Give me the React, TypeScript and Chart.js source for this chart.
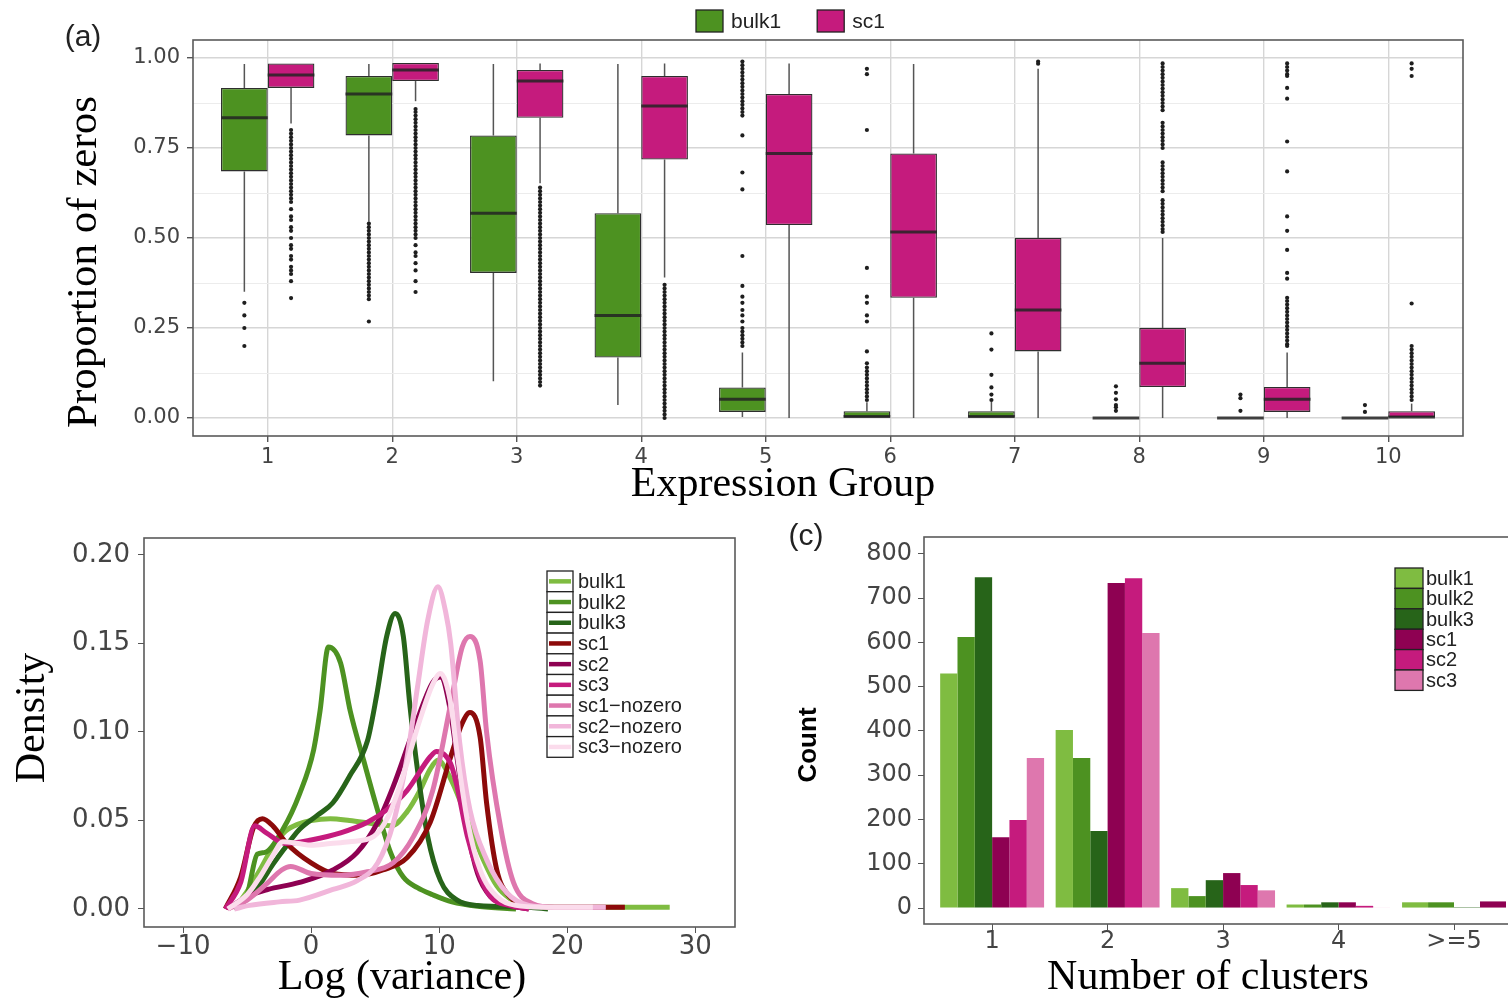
import React, { useEffect, useRef } from 'react';
import { Chart, registerables } from 'chart.js';

Chart.register(...registerables);
Chart.defaults.font.family = "'DejaVu Sans', 'Liberation Sans', sans-serif";

// ---------------- Panel (a): proportion of zeros by expression group ----------------
const exprGroups = ['1', '2', '3', '4', '5', '6', '7', '8', '9', '10'];

const bulk1Low = [0.351, 0.545, 0.102, 0.036, 0.003, 0, 0, 0, 0, 0];
const bulk1Q1 = [0.685, 0.785, 0.403, 0.168, 0.017, 0, 0, 0, 0, 0];
const bulk1Median = [0.834, 0.9, 0.569, 0.285, 0.052, 0.004, 0.004, 0, 0, 0];
const bulk1Q3 = [0.917, 0.95, 0.785, 0.569, 0.085, 0.019, 0.019, 0, 0, 0];
const bulk1High = [0.983, 0.983, 0.983, 0.983, 0.182, 0.044, 0.045, 0, 0, 0];

const sc1Low = [0.818, 0.88, 0.652, 0.39, 0, 0, 0, 0, 0, 0];
const sc1Q1 = [0.917, 0.936, 0.834, 0.718, 0.536, 0.334, 0.185, 0.086, 0.017, 0];
const sc1Median = [0.953, 0.967, 0.936, 0.867, 0.735, 0.517, 0.3, 0.152, 0.052, 0.003];
const sc1Q3 = [0.985, 0.986, 0.967, 0.95, 0.9, 0.735, 0.5, 0.25, 0.086, 0.019];
const sc1High = [0.985, 0.986, 0.985, 0.985, 0.985, 0.983, 0.97, 0.5, 0.182, 0.04];

const bulk1Outliers: number[][] = [
  [0.32, 0.285, 0.25, 0.2],
  [0.54, 0.53, 0.52, 0.51, 0.5, 0.49, 0.48, 0.47, 0.46, 0.45, 0.44, 0.43, 0.42, 0.41, 0.4, 0.39, 0.38, 0.37, 0.36, 0.35, 0.34, 0.33, 0.268],
  [],
  [],
  [0.99, 0.98, 0.97, 0.96, 0.95, 0.94, 0.93, 0.92, 0.91, 0.9, 0.89, 0.88, 0.87, 0.86, 0.85, 0.84, 0.785, 0.682, 0.635, 0.45, 0.367, 0.337, 0.32, 0.3, 0.285, 0.268, 0.25, 0.24, 0.23, 0.22, 0.21, 0.2],
  [0.97, 0.955, 0.8, 0.417, 0.337, 0.32, 0.285, 0.268, 0.185, 0.152, 0.14, 0.13, 0.12, 0.11, 0.1, 0.09, 0.08, 0.07, 0.06, 0.05],
  [0.235, 0.19, 0.12, 0.085, 0.065, 0.05],
  [0.088, 0.07, 0.052, 0.036, 0.03, 0.02],
  [0.065, 0.055, 0.02],
  [0.036, 0.017],
];

const sc1Outliers: number[][] = [
  [0.8, 0.79, 0.78, 0.77, 0.76, 0.75, 0.74, 0.73, 0.72, 0.71, 0.7, 0.69, 0.68, 0.67, 0.66, 0.65, 0.64, 0.63, 0.62, 0.61, 0.6, 0.58, 0.56, 0.55, 0.53, 0.52, 0.5, 0.48, 0.47, 0.45, 0.44, 0.42, 0.41, 0.4, 0.38, 0.333],
  [0.858, 0.85, 0.84, 0.83, 0.82, 0.81, 0.8, 0.79, 0.78, 0.77, 0.76, 0.75, 0.74, 0.73, 0.72, 0.71, 0.7, 0.69, 0.68, 0.67, 0.66, 0.65, 0.64, 0.63, 0.62, 0.61, 0.6, 0.59, 0.58, 0.57, 0.56, 0.55, 0.54, 0.53, 0.52, 0.51, 0.5, 0.48, 0.46, 0.45, 0.43, 0.41, 0.38, 0.35],
  [0.64, 0.63, 0.62, 0.61, 0.6, 0.59, 0.58, 0.57, 0.56, 0.55, 0.54, 0.53, 0.52, 0.51, 0.5, 0.49, 0.48, 0.47, 0.46, 0.45, 0.44, 0.43, 0.42, 0.41, 0.4, 0.39, 0.38, 0.37, 0.36, 0.35, 0.34, 0.33, 0.32, 0.31, 0.3, 0.29, 0.28, 0.27, 0.26, 0.25, 0.24, 0.23, 0.22, 0.21, 0.2, 0.19, 0.18, 0.17, 0.16, 0.15, 0.14, 0.13, 0.12, 0.11, 0.1, 0.09],
  [0.37, 0.36, 0.35, 0.34, 0.33, 0.32, 0.31, 0.3, 0.29, 0.28, 0.27, 0.26, 0.25, 0.24, 0.23, 0.22, 0.21, 0.2, 0.19, 0.18, 0.17, 0.16, 0.15, 0.14, 0.13, 0.12, 0.11, 0.1, 0.09, 0.08, 0.07, 0.06, 0.05, 0.04, 0.03, 0.02, 0.01, 0.0],
  [],
  [],
  [0.99, 0.984],
  [0.985, 0.975, 0.965, 0.955, 0.945, 0.935, 0.925, 0.915, 0.905, 0.895, 0.885, 0.875, 0.865, 0.855, 0.82, 0.81, 0.8, 0.79, 0.78, 0.77, 0.76, 0.75, 0.71, 0.7, 0.69, 0.68, 0.67, 0.66, 0.65, 0.64, 0.63, 0.605, 0.595, 0.585, 0.575, 0.565, 0.555, 0.545, 0.535, 0.525, 0.517],
  [0.985, 0.975, 0.965, 0.955, 0.95, 0.917, 0.887, 0.768, 0.685, 0.56, 0.52, 0.467, 0.403, 0.387, 0.334, 0.325, 0.315, 0.305, 0.295, 0.285, 0.275, 0.265, 0.255, 0.245, 0.235, 0.225, 0.215, 0.205, 0.2],
  [0.985, 0.97, 0.95, 0.318, 0.2, 0.19, 0.18, 0.17, 0.16, 0.15, 0.14, 0.13, 0.12, 0.11, 0.1, 0.09, 0.08, 0.07, 0.06, 0.05],
];

// ---------------- Panel (b): density of log(variance) ----------------
const densityLabels = ['bulk1', 'bulk2', 'bulk3', 'sc1', 'sc2', 'sc3', 'sc1\u2212nozero', 'sc2\u2212nozero', 'sc3\u2212nozero'];

const densBulk1: [number, number][] = [[-6, 0], [-5, 0.01], [-4, 0.022], [-3, 0.035], [-2, 0.044], [-1, 0.048], [0, 0.05], [1.5, 0.051], [3, 0.05], [5, 0.048], [6.3, 0.047], [7.5, 0.055], [8.5, 0.067], [9.3, 0.079], [9.9, 0.084], [11, 0.072], [11.8, 0.058], [12.6, 0.043], [13.5, 0.027], [14.5, 0.013], [15.5, 0.006], [17, 0.002], [19, 0.001], [28, 0.001]];
const densBulk2: [number, number][] = [[-6, 0], [-5, 0.008], [-4.2, 0.031], [-3.6, 0.032], [-2.2, 0.045], [-0.9, 0.065], [0.2, 0.09], [0.7, 0.112], [1.35, 0.148], [2.3, 0.139], [3.05, 0.112], [4.1, 0.084], [5.1, 0.058], [6.2, 0.032], [7.2, 0.018], [8.3, 0.012], [9.5, 0.008], [11, 0.004], [13, 0.0015], [16, 0]];
const densBulk3: [number, number][] = [[-6, 0], [-5, 0.006], [-4, 0.014], [-3, 0.025], [-2.2, 0.033], [-0.9, 0.045], [0.5, 0.053], [1.7, 0.06], [3, 0.075], [4.4, 0.095], [5.1, 0.12], [5.9, 0.154], [6.56, 0.167], [7.2, 0.154], [7.7, 0.116], [8.3, 0.079], [9.1, 0.041], [10.1, 0.016], [11.4, 0.005], [13, 0.002], [17, 0.001], [18.5, 0]];
const densSc1: [number, number][] = [[-6.7, 0], [-5.5, 0.018], [-4.5, 0.046], [-3.8, 0.051], [-3, 0.047], [-1.9, 0.037], [0, 0.026], [1.7, 0.02], [3.8, 0.019], [5.6, 0.022], [7.5, 0.029], [9.3, 0.049], [10.9, 0.086], [11.8, 0.105], [12.4, 0.111], [13.2, 0.097], [13.7, 0.06], [14.5, 0.022], [15.5, 0.007], [17, 0.002], [19, 0.001], [24.5, 0.001]];
const densSc2: [number, number][] = [[-6.5, 0], [-5, 0.007], [-3.4, 0.011], [-0.9, 0.015], [1.7, 0.022], [3.6, 0.032], [5.2, 0.049], [6.4, 0.069], [8, 0.101], [9.5, 0.128], [10.1, 0.131], [10.8, 0.115], [11.5, 0.08], [12.2, 0.045], [13, 0.02], [14, 0.007], [15.5, 0.002], [17, 0]];
const densSc3: [number, number][] = [[-6.7, 0], [-5.5, 0.015], [-4.4, 0.047], [-3.5, 0.043], [-2, 0.037], [0, 0.039], [2.3, 0.043], [4.4, 0.049], [5.9, 0.056], [7.5, 0.067], [9.3, 0.086], [9.8, 0.089], [10.9, 0.082], [11.4, 0.069], [12.2, 0.041], [13, 0.022], [14, 0.007], [15.5, 0.002], [17, 0]];
const densSc1NoZero: [number, number][] = [[-6.5, 0], [-5, 0.005], [-3.5, 0.014], [-2.3, 0.022], [-1.6, 0.024], [0, 0.02], [2.3, 0.019], [4.4, 0.021], [6.4, 0.026], [8, 0.041], [9.5, 0.067], [10.9, 0.116], [11.8, 0.148], [12.4, 0.154], [13.2, 0.14], [13.7, 0.1], [14.8, 0.046], [15.8, 0.015], [17.3, 0.003], [19, 0.001], [23, 0.001]];
const densSc2NoZero: [number, number][] = [[-6, 0], [-4.8, 0.002], [-2.5, 0.004], [-0.9, 0.005], [1.7, 0.011], [3.6, 0.016], [5.2, 0.026], [6.4, 0.048], [7.5, 0.086], [8.3, 0.125], [9.1, 0.163], [9.9, 0.182], [10.5, 0.168], [10.9, 0.15], [11.6, 0.094], [12.4, 0.056], [13.7, 0.028], [15.3, 0.009], [17, 0.002], [19, 0.001], [23, 0.001]];
const densSc3NoZero: [number, number][] = [[-6.5, 0], [-5, 0.008], [-4, 0.018], [-3, 0.03], [-2.2, 0.038], [-1, 0.037], [0, 0.036], [1.5, 0.037], [3, 0.038], [4.9, 0.041], [6, 0.052], [7, 0.071], [8.5, 0.107], [9.5, 0.127], [10.1, 0.133], [10.9, 0.116], [11.4, 0.088], [12.2, 0.05], [13.2, 0.022], [14.5, 0.007], [16, 0.002], [18, 0.001], [22, 0.001]];

const densitySeries = [densBulk1, densBulk2, densBulk3, densSc1, densSc2, densSc3, densSc1NoZero, densSc2NoZero, densSc3NoZero];
const densityColors = ['#7fbc41', '#4d9221', '#276419', '#8c0a0a', '#8e0152', '#c51b7d', '#de77ae', '#f1b6da', '#fbdcec'];
const densityXTicks = [-10, 0, 10, 20, 30];

// ---------------- Panel (c): number of clusters ----------------
const clusterLabels = ['1', '2', '3', '4', '>=5'];
const clusterSeriesNames = ['bulk1', 'bulk2', 'bulk3', 'sc1', 'sc2', 'sc3'];
const countBulk1 = [530, 402, 45, 8, 13];
const countBulk2 = [612, 339, 27, 8, 13];
const countBulk3 = [747, 174, 63, 13, 2];
const countSc1 = [160, 734, 79, 13, 15];
const countSc2: (number | null)[] = [199, 745, 52, 5, null];
const countSc3: (number | null)[] = [339, 621, 40, 1, null];
const clusterColors = ['#7fbc41', '#4d9221', '#276419', '#8e0152', '#c51b7d', '#de77ae'];

// ---------------- styling constants ----------------
const GREEN = '#4d9221';
const MAGENTA = '#c51b7d';
const TICK_COLOR = '#444444';
const SERIF = "'Liberation Serif', 'Times New Roman', serif";
const SANS = "'Liberation Sans', Arial, sans-serif";

// ---------------- plugins ----------------
function framePlugin(color: string, width: number) {
  return {
    id: 'frame',
    afterDraw(chart: any) {
      const { ctx, chartArea } = chart;
      ctx.save();
      ctx.strokeStyle = color;
      ctx.lineWidth = width;
      ctx.strokeRect(chartArea.left, chartArea.top, chartArea.right - chartArea.left, chartArea.bottom - chartArea.top);
      ctx.restore();
    },
  };
}

type TextItem = { text: string; x: number; y: number; font: string; rotate?: number; color?: string };
function textPlugin(items: TextItem[]) {
  return {
    id: 'panelText',
    afterDraw(chart: any) {
      const ctx = chart.ctx;
      items.forEach((it) => {
        ctx.save();
        ctx.translate(it.x, it.y);
        if (it.rotate) ctx.rotate((it.rotate * Math.PI) / 180);
        ctx.font = it.font;
        ctx.fillStyle = it.color || '#000';
        ctx.textAlign = 'center';
        ctx.textBaseline = 'middle';
        ctx.fillText(it.text, 0, 0);
        ctx.restore();
      });
    },
  };
}

type LegendOpts = {
  layout: 'row' | 'column';
  kind: 'box' | 'line';
  x: number;
  y: number;
  keyW: number;
  keyH: number;
  textGap: number;
  itemGap?: number;
  font: string;
  lineWidth?: number;
};
function legendPlugin(o: LegendOpts) {
  return {
    id: 'keyLegend',
    afterDraw(chart: any) {
      const ctx = chart.ctx;
      const items = chart.data.datasets.filter((d: any) => !d.hideInLegend);
      ctx.save();
      ctx.font = o.font;
      ctx.textBaseline = 'middle';
      ctx.textAlign = 'left';
      let cx = o.x;
      items.forEach((d: any, i: number) => {
        const kx = o.layout === 'row' ? cx : o.x;
        const ky = o.layout === 'row' ? o.y : o.y + i * o.keyH;
        if (o.kind === 'line') {
          ctx.fillStyle = '#ffffff';
          ctx.fillRect(kx, ky, o.keyW, o.keyH);
          ctx.strokeStyle = d.borderColor;
          ctx.lineWidth = o.lineWidth || 4;
          ctx.beginPath();
          ctx.moveTo(kx + 2, ky + o.keyH / 2);
          ctx.lineTo(kx + o.keyW - 2, ky + o.keyH / 2);
          ctx.stroke();
        } else {
          ctx.fillStyle = d.backgroundColor;
          ctx.fillRect(kx, ky, o.keyW, o.keyH);
        }
        ctx.strokeStyle = '#222222';
        ctx.lineWidth = 1.3;
        ctx.strokeRect(kx, ky, o.keyW, o.keyH);
        ctx.fillStyle = '#222222';
        const tx = kx + o.keyW + o.textGap;
        ctx.fillText(d.label, tx, ky + o.keyH / 2 + 1);
        cx = tx + ctx.measureText(d.label).width + (o.itemGap || 0);
      });
      ctx.restore();
    },
  };
}

// whiskers (below boxes) and medians (above boxes) from each box's own stats
const boxWhiskerPlugin = {
  id: 'boxWhisker',
  beforeDatasetsDraw(chart: any) {
    const ctx = chart.ctx;
    const yScale = chart.scales.y;
    chart.data.datasets.forEach((ds: any, di: number) => {
      if (!ds.boxStats) return;
      const meta = chart.getDatasetMeta(di);
      ctx.save();
      ctx.strokeStyle = '#555555';
      ctx.lineWidth = 1.5;
      meta.data.forEach((el: any, i: number) => {
        const { x } = el.getProps(['x'], true);
        const s = ds.boxStats;
        ctx.beginPath();
        ctx.moveTo(x, yScale.getPixelForValue(s.high[i]));
        ctx.lineTo(x, yScale.getPixelForValue(s.q3[i]));
        ctx.moveTo(x, yScale.getPixelForValue(s.q1[i]));
        ctx.lineTo(x, yScale.getPixelForValue(s.low[i]));
        ctx.stroke();
      });
      ctx.restore();
    });
  },
  afterDatasetsDraw(chart: any) {
    const ctx = chart.ctx;
    const yScale = chart.scales.y;
    chart.data.datasets.forEach((ds: any, di: number) => {
      if (!ds.boxStats) return;
      const meta = chart.getDatasetMeta(di);
      ctx.save();
      ctx.strokeStyle = 'rgba(35,35,35,0.85)';
      ctx.lineWidth = 3;
      meta.data.forEach((el: any, i: number) => {
        const { x, width } = el.getProps(['x', 'width'], true);
        const y = yScale.getPixelForValue(ds.boxStats.med[i]);
        ctx.beginPath();
        ctx.moveTo(x - width / 2, y);
        ctx.lineTo(x + width / 2, y);
        ctx.stroke();
      });
      ctx.restore();
    });
  },
};

const isQuarter = (v: number) => Math.abs(v * 4 - Math.round(v * 4)) < 1e-6;

// ---------------- configs ----------------
function configA(): any {
  const dodge = 0.75 / 4;
  const boxData = (q1: number[], q3: number[]) => exprGroups.map((_, i) => ({ x: i + 1, y: [q1[i], q3[i]] }));
  const outlierData = (lists: number[][], shift: number) =>
    lists.flatMap((vals, i) => vals.map((v) => ({ x: i + 1 + shift, y: v })));
  const boxCommon = {
    type: 'bar',
    borderColor: '#2e2e2e',
    borderWidth: 1.3,
    borderSkipped: false,
    categoryPercentage: 0.75,
    barPercentage: 1,
  };
  return {
    type: 'bar',
    data: {
      datasets: [
        {
          ...boxCommon,
          label: 'bulk1',
          data: boxData(bulk1Q1, bulk1Q3),
          backgroundColor: GREEN,
          boxStats: { low: bulk1Low, q1: bulk1Q1, med: bulk1Median, q3: bulk1Q3, high: bulk1High },
        },
        {
          ...boxCommon,
          label: 'sc1',
          data: boxData(sc1Q1, sc1Q3),
          backgroundColor: MAGENTA,
          boxStats: { low: sc1Low, q1: sc1Q1, med: sc1Median, q3: sc1Q3, high: sc1High },
        },
        {
          type: 'scatter',
          label: 'bulk1 outliers',
          hideInLegend: true,
          data: outlierData(bulk1Outliers, -dodge),
          pointRadius: 2.1,
          pointBackgroundColor: '#1e1e1e',
          pointBorderWidth: 0,
        },
        {
          type: 'scatter',
          label: 'sc1 outliers',
          hideInLegend: true,
          data: outlierData(sc1Outliers, dodge),
          pointRadius: 2.1,
          pointBackgroundColor: '#1e1e1e',
          pointBorderWidth: 0,
        },
      ],
    },
    options: {
      responsive: false,
      animation: false,
      events: [],
      layout: { padding: { top: 40, right: 45, left: 0, bottom: 0 } },
      plugins: { legend: { display: false }, tooltip: { enabled: false } },
      scales: {
        x: {
          type: 'linear',
          min: 0.4,
          max: 10.6,
          offset: false,
          afterFit: (s: any) => { s.height = 74; },
          ticks: {
            stepSize: 1,
            includeBounds: false,
            autoSkip: false,
            maxRotation: 0,
            padding: 3,
            color: TICK_COLOR,
            font: { size: 21 },
            callback: (v: number) => exprGroups[Math.round(v) - 1] ?? '',
          },
          grid: { offset: false, color: '#d6d6d6', lineWidth: 1.4, tickLength: 6, tickColor: '#555555' },
          border: { display: false },
        },
        y: {
          type: 'linear',
          min: -0.05,
          max: 1.05,
          beginAtZero: false,
          afterFit: (s: any) => { s.width = 193; },
          ticks: {
            stepSize: 0.125,
            includeBounds: false,
            autoSkip: false,
            padding: 7,
            color: TICK_COLOR,
            font: { size: 21 },
            callback: (v: number) => (isQuarter(v) ? v.toFixed(2) : ''),
          },
          grid: {
            color: (c: any) => (isQuarter(c.tick.value) ? '#d6d6d6' : '#ececec'),
            lineWidth: (c: any) => (isQuarter(c.tick.value) ? 1.4 : 1),
            tickLength: 6,
            tickColor: (c: any) => (isQuarter(c.tick.value) ? '#555555' : 'rgba(0,0,0,0)'),
          },
          border: { display: false },
        },
      },
    },
    plugins: [
      boxWhiskerPlugin,
      framePlugin('#5a5a5a', 1.6),
      legendPlugin({ layout: 'row', kind: 'box', x: 696, y: 10, keyW: 27, keyH: 22, textGap: 8, itemGap: 36, font: `21px ${SANS}` }),
      textPlugin([
        { text: '(a)', x: 83, y: 38, font: `30px ${SANS}`, color: '#222' },
        { text: 'Proportion of zeros', x: 85, y: 262, rotate: -90, font: `43px ${SERIF}` },
        { text: 'Expression Group', x: 783, y: 485, font: `42px ${SERIF}` },
      ]),
    ],
  };
}

function configB(): any {
  return {
    type: 'line',
    data: {
      datasets: densitySeries.map((pts, i) => ({
        label: densityLabels[i],
        data: pts.map(([x, y]) => ({ x, y })),
        borderColor: densityColors[i],
        backgroundColor: densityColors[i],
        borderWidth: 5,
        pointRadius: 0,
        fill: false,
        cubicInterpolationMode: 'monotone',
        borderJoinStyle: 'round',
        order: densitySeries.length - 1 - i,
      })),
    },
    options: {
      responsive: false,
      animation: false,
      events: [],
      layout: { padding: { top: 28, right: 25, left: 0, bottom: 0 } },
      plugins: { legend: { display: false }, tooltip: { enabled: false } },
      scales: {
        x: {
          type: 'linear',
          min: -13.05,
          max: 33.1,
          afterFit: (s: any) => { s.height = 75; },
          ticks: {
            stepSize: 10,
            includeBounds: false,
            autoSkip: false,
            maxRotation: 0,
            padding: 3,
            color: TICK_COLOR,
            font: { size: 26, lineHeight: 0.9 },
            callback: (v: number) => (densityXTicks.includes(v) ? (v < 0 ? '\u2212' + Math.abs(v) : String(v)) : ''),
          },
          grid: { drawOnChartArea: false, tickLength: 6, tickColor: '#555555' },
          border: { display: false },
        },
        y: {
          type: 'linear',
          min: -0.0102,
          max: 0.2096,
          afterFit: (s: any) => { s.width = 144; },
          ticks: {
            stepSize: 0.05,
            includeBounds: false,
            autoSkip: false,
            padding: 8,
            color: TICK_COLOR,
            font: { size: 26 },
            callback: (v: number) => v.toFixed(2),
          },
          grid: { drawOnChartArea: false, tickLength: 6, tickColor: '#555555' },
          border: { display: false },
        },
      },
    },
    plugins: [
      framePlugin('#5a5a5a', 1.6),
      legendPlugin({ layout: 'column', kind: 'line', x: 547, y: 61, keyW: 26, keyH: 20.7, textGap: 5, font: `20px ${SANS}`, lineWidth: 4.5 }),
      textPlugin([
        { text: 'Density', x: 33, y: 208, rotate: -90, font: `42px ${SERIF}` },
        { text: 'Log (variance)', x: 402, y: 468, font: `42px ${SERIF}` },
      ]),
    ],
  };
}

function configC(): any {
  const series = [countBulk1, countBulk2, countBulk3, countSc1, countSc2, countSc3];
  return {
    type: 'bar',
    data: {
      datasets: series.map((vals, i) => ({
        label: clusterSeriesNames[i],
        data: vals.map((v, k) => ({ x: k + 1, y: v })),
        backgroundColor: clusterColors[i],
        borderWidth: 0,
        categoryPercentage: 0.9,
        barPercentage: 1,
      })),
    },
    options: {
      responsive: false,
      animation: false,
      events: [],
      skipNull: true,
      layout: { padding: { top: 27, right: 39, left: 0, bottom: 0 } },
      plugins: { legend: { display: false }, tooltip: { enabled: false } },
      scales: {
        x: {
          type: 'linear',
          min: 0.41,
          max: 5.58,
          offset: false,
          afterFit: (s: any) => { s.height = 78; },
          ticks: {
            stepSize: 1,
            includeBounds: false,
            autoSkip: false,
            maxRotation: 0,
            padding: 2,
            color: TICK_COLOR,
            font: { size: 24, lineHeight: 0.85 },
            callback: (v: number) => clusterLabels[Math.round(v) - 1] ?? '',
          },
          grid: { offset: false, drawOnChartArea: false, tickLength: 6, tickColor: '#555555' },
          border: { display: false },
        },
        y: {
          type: 'linear',
          min: -36,
          max: 838,
          beginAtZero: false,
          afterFit: (s: any) => { s.width = 164; },
          ticks: {
            stepSize: 100,
            includeBounds: false,
            autoSkip: false,
            padding: 6,
            color: TICK_COLOR,
            font: { size: 24 },
          },
          grid: { drawOnChartArea: false, tickLength: 6, tickColor: '#555555' },
          border: { display: false },
        },
      },
    },
    plugins: [
      framePlugin('#5a5a5a', 1.6),
      legendPlugin({ layout: 'column', kind: 'box', x: 635, y: 58, keyW: 28, keyH: 20.4, textGap: 3, font: `20px ${SANS}` }),
      textPlugin([
        { text: '(c)', x: 46, y: 27, font: `30px ${SANS}`, color: '#222' },
        { text: 'Count', x: 49, y: 235, rotate: -90, font: `bold 26px ${SANS}` },
        { text: 'Number of clusters', x: 448, y: 468, font: `42px ${SERIF}` },
      ]),
    ],
  };
}

function ChartCanvas(props: { makeConfig: () => any; left: number; top: number; width: number; height: number }) {
  const ref = useRef<HTMLCanvasElement>(null);
  useEffect(() => {
    const chart = new Chart(ref.current as HTMLCanvasElement, props.makeConfig());
    return () => chart.destroy();
  }, []);
  return (
    <canvas
      ref={ref}
      width={props.width}
      height={props.height}
      style={{ position: 'absolute', left: props.left, top: props.top, width: props.width, height: props.height, display: 'block' }}
    />
  );
}

export default function App() {
  return (
    <div style={{ position: 'fixed', left: 0, top: 0, width: 1508, height: 1002, overflow: 'hidden', background: '#ffffff' }}>
      <ChartCanvas makeConfig={configA} left={0} top={0} width={1508} height={510} />
      <ChartCanvas makeConfig={configB} left={0} top={510} width={760} height={492} />
      <ChartCanvas makeConfig={configC} left={760} top={510} width={800} height={492} />
    </div>
  );
}
